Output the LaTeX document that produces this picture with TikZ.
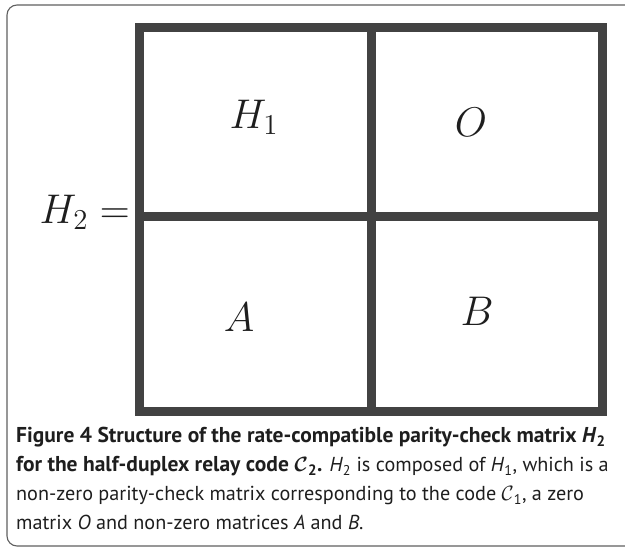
\documentclass[tikz,border=0pt]{standalone}
\usepackage{graphicx}
\usepackage{fontspec}
\newfontfamily\capfont{PT Sans}
\definecolor{gridgray}{RGB}{66,66,66}
\definecolor{framegray}{RGB}{95,95,95}
\definecolor{inkblack}{RGB}{30,30,30}
\newcommand{\blockname}[1]{\scalebox{2}{$#1$}}
\newcommand{\capbf}[1]{{\fontsize{21.5}{24}\selectfont\bfseries #1}}
\tikzset{
  gridline/.style={line width=9pt,draw=gridgray},
  framebox/.style={draw=framegray,line width=1.1pt,rounded corners=10pt},
  cell/.style={inner sep=0pt,text=inkblack,font=\fontsize{22}{26}\selectfont},
  capline/.style={anchor=base west,inner sep=0pt,text=inkblack,
                  font=\capfont\fontsize{20.2}{24}\selectfont},
}
\begin{document}
\begin{tikzpicture}[x=1pt,y=-1pt]
  \useasboundingbox (0,0) rectangle (625,548);
  \clip (0,0) rectangle (625,548);
  % outer frame of the figure
  \draw[framebox] (7,5) rectangle (650,546);
  % block matrix
  \coordinate (tl) at (139.5,28);
  \coordinate (br) at (602.5,412);
  \draw[gridline] (tl) rectangle (br);
  \draw[gridline] (371,28) -- (371,412);
  \draw[gridline] (139.5,217) -- (602.5,217);
  \node[cell] (h1) at (254,117) {\blockname{H_1}};
  \node[cell] (o) at (471,122) {\blockname{O}};
  \node[cell] (a) at (239,317) {\blockname{A}};
  \node[cell] (b) at (477,311) {\blockname{B}};
  \node[cell,anchor=east] (lhs) at (130,212) {\blockname{H_2 =}};
  % caption
  \node[capline] (cap1) at (16,443) {\capbf{Figure 4 Structure of the rate-compatible parity-check matrix \textit{H}\textsubscript{2}}};
  \node[capline] (cap2) at (16,472) {\capbf{for the half-duplex relay code {\boldmath$\mathcal{C}$}\textsubscript{2}.} \textit{H}\textsubscript{2} is composed of \textit{H}\textsubscript{1}, which is a};
  \node[capline] (cap3) at (16,501) {non-zero parity-check matrix corresponding to the code $\mathcal{C}$\textsubscript{1}, a zero};
  \node[capline] (cap4) at (16,530) {matrix \textit{O} and non-zero matrices \textit{A} and \textit{B}.};
\end{tikzpicture}
\end{document}
